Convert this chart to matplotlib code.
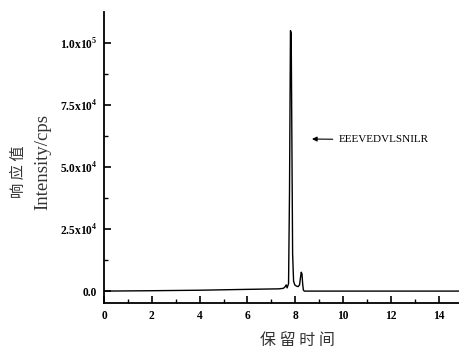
import numpy as np
import matplotlib.pyplot as plt

plt.rcParams['font.family'] = ['Liberation Serif', 'Noto Sans CJK SC']
plt.rcParams['mathtext.fontset'] = 'custom'
plt.rcParams['mathtext.rm'] = 'Liberation Serif:bold'

# retention time (min) and response (cps)
time = [0.0, 2.0, 4.0, 6.0, 7.3, 7.5, 7.58, 7.62, 7.66, 7.72, 7.76, 7.8, 7.83, 7.86,
        7.89, 7.93, 7.98, 8.05, 8.12, 8.18, 8.22, 8.25, 8.28, 8.31, 8.34, 8.38, 8.45,
        9.0, 12.0, 15.0]
intensity = [0, 150, 350, 700, 900, 1100, 1800, 2500, 1300, 3000, 40000, 105000, 104000,
             60000, 15000, 4000, 2500, 2000, 1800, 2500, 5500, 7600, 7000, 3000, 400,
             0, 0, 0, 0, 0]

yticks = [0, 25000, 50000, 75000, 100000]
ytick_labels = ['0.0', '2.5x10$^4$', '5.0x10$^4$', '7.5x10$^4$', '1.0x10$^5$']
xticks = [0, 2, 4, 6, 8, 10, 12, 14]

fig = plt.figure(figsize=(4.59, 3.48), dpi=100)
ax = fig.add_axes([104 / 459, 45 / 348, 1 - 104 / 459, 291 / 348])
ax.plot(time, intensity, color='black', linewidth=1.0)

ax.set_xlim(0, 14.85)
ax.set_ylim(-4800, 112500)
ax.set_xticks(xticks)
ax.set_xticks(np.arange(1, 15, 2), minor=True)
ax.set_yticks(yticks)
ax.set_yticks(np.arange(12500, 110000, 25000), minor=True)
ax.set_yticklabels(ytick_labels)
ax.set_xticklabels([str(t) for t in xticks])
for lbl in ax.get_xticklabels() + ax.get_yticklabels():
    lbl.set_fontweight('bold')
    lbl.set_fontsize(8.3)

ax.tick_params(which='major', direction='in', length=5, width=1.2, pad=5)
ax.tick_params(which='minor', direction='in', length=3, width=1.0)
ax.spines['top'].set_visible(False)
ax.spines['right'].set_visible(False)
ax.spines['left'].set_linewidth(1.3)
ax.spines['bottom'].set_linewidth(1.3)

ax.annotate('EEEVEDVLSNILR', xy=(8.7, 61300), xytext=(9.8, 61000),
            fontsize=8, va='center', ha='left',
            arrowprops=dict(arrowstyle='-|>', color='black', lw=0.8,
                            mutation_scale=7, shrinkA=2, shrinkB=0))

fig.text(18 / 459, 1 - 172 / 348, '响 应 值', rotation=90, ha='center', va='center',
         fontsize=11, family=['Noto Sans CJK SC'], color='#333333')
fig.text(43 / 459, 1 - 162 / 348, 'Intensity/cps', rotation=90, ha='center', va='center',
         fontsize=13.5, color='#333333')
fig.text(297 / 459, 1 - 340 / 348, '保 留 时 间', ha='center', va='center',
         fontsize=11.5, family=['Noto Sans CJK SC'], color='#333333')

fig.savefig('out.png', dpi=100)
